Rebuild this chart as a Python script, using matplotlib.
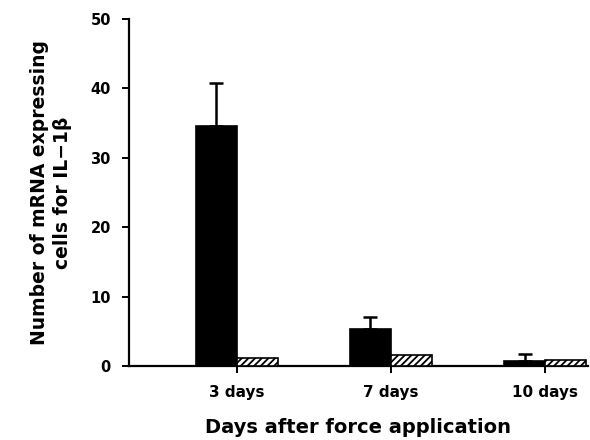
import matplotlib
matplotlib.use("Agg")
import matplotlib.pyplot as plt
import numpy as np

categories = ["3 days", "7 days", "10 days"]
force_values = [34.6, 5.4, 0.7]
force_errors = [6.2, 1.6, 1.1]
control_values = [1.1, 1.6, 0.8]
y_ticks = [0, 10, 20, 30, 40, 50]

plt.rcParams['font.family'] = ['DejaVu Sans']
plt.rcParams['hatch.linewidth'] = 1.3

fig = plt.figure(figsize=(5.9, 4.4), dpi=100)
ax = fig.add_axes([0.2186, 0.1682, 0.9966 - 0.2186, 0.9568 - 0.1682])

x = np.arange(len(categories))
w = 0.266
ax.bar(x - w / 2, force_values, width=w, color="black", edgecolor="black", linewidth=1.2,
       yerr=[np.zeros(len(force_errors)), force_errors],
       error_kw=dict(ecolor="black", elinewidth=1.8, capsize=5, capthick=1.8), zorder=3)
ax.bar(x + w / 2, control_values, width=w, color="white", edgecolor="black", linewidth=1.2,
       hatch="/////", zorder=3)

ax.set_xlim(-0.701, 2.279)
ax.set_ylim(0, 50)
ax.set_yticks(y_ticks)
ax.set_yticklabels([str(t) for t in y_ticks], fontsize=10.5, fontweight="bold")
ax.set_xticks(x)
ax.set_xticklabels(categories, fontsize=11, fontweight="bold")

for s in ["top", "right"]:
    ax.spines[s].set_visible(False)
for s in ["left", "bottom"]:
    ax.spines[s].set_linewidth(1.6)
ax.tick_params(axis="both", direction="out", length=5, width=1.4)
ax.tick_params(axis="y", pad=8)
ax.tick_params(axis="x", pad=9)

ax.set_xlabel("Days after force application", fontsize=14, fontweight="bold", labelpad=13)
ax.set_ylabel("Number of mRNA expressing\ncells for IL\u22121\u03b2", fontsize=13.5,
              fontweight="bold", labelpad=13, linespacing=1.3)

fig.savefig("out.png", dpi=100)
